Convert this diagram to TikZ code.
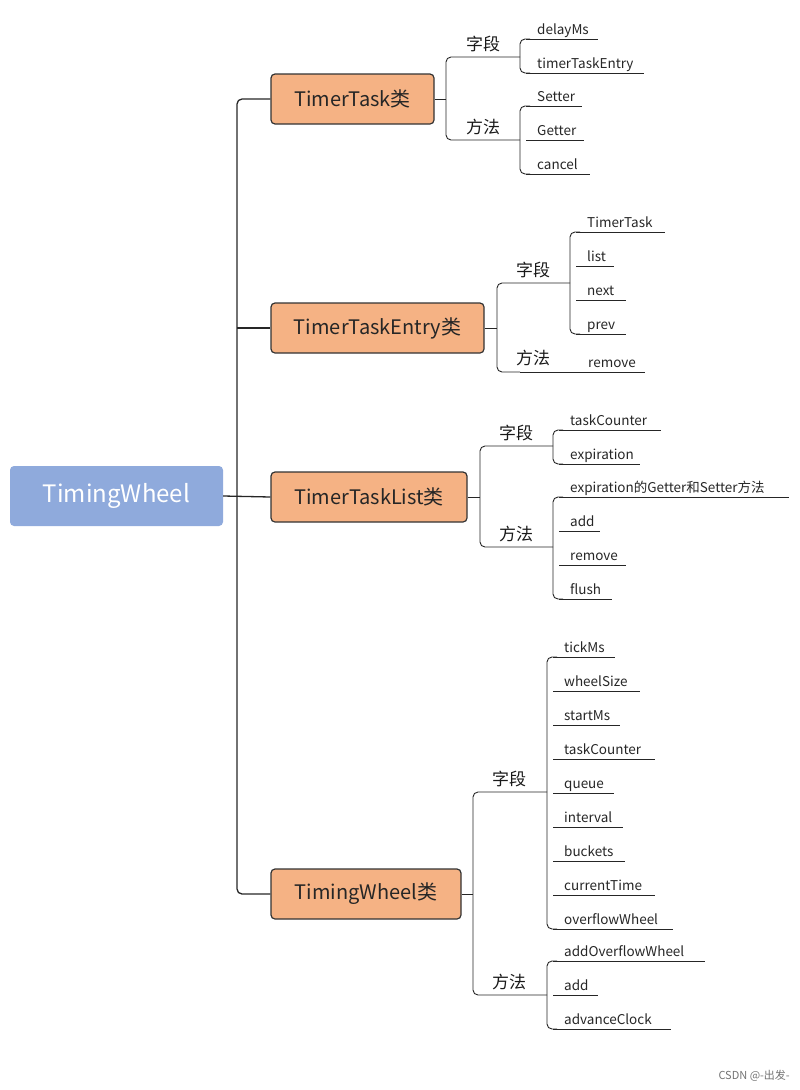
\documentclass[tikz,border=0pt]{standalone}
\usepackage{fontspec}
\setmainfont{Noto Sans CJK SC}
\begin{document}
\begin{tikzpicture}[x=1pt,y=-1pt,
  ln/.style={line width=0.9pt,draw=black!85},
  leaf/.style={anchor=base west,inner sep=0pt,font=\fontsize{13.5}{15}\selectfont,text=black!85},
  cat/.style={anchor=base,inner sep=0pt,font=\fontsize{17}{19}\selectfont,text=black!90},
  cls/.style={draw=black!80,line width=1.2pt,fill=orange!45!red!8!white,fill={rgb,255:red,245;green,178;blue,132},rounded corners=4pt,minimum height=50pt,inner sep=0pt,font=\fontsize{20}{22}\selectfont,text=black!85},
  rc/.style={ln,rounded corners=5pt}]
\useasboundingbox (0,0) rectangle (800,1090);
\newcommand\leafs[2]{%
  \foreach \uy/\ex/\tx in {#2}{%
    \node[leaf] (L-#1-\uy) at (#1+17,\uy-5) {\tx};
    \draw[ln] (#1+6,\uy) -- (\ex,\uy);
  }}
% root
\node[fill={rgb,255:red,143;green,170;blue,220},rounded corners=4pt,minimum width=213pt,minimum height=60pt,text=white,font=\fontsize{24}{26}\selectfont] (root) at (116.5,496) {TimingWheel};
\node[cls,minimum width=163pt] (c1) at (352.5,99) {TimerTask类};
\node[cls,minimum width=213pt] (c2) at (377.5,328) {TimerTaskEntry类};
\node[cls,minimum width=196pt] (c3) at (369,497) {TimerTaskList类};
\node[cls,minimum width=190pt] (c4) at (366,894) {TimingWheel类};
\coordinate (t) at (237,496);
\draw[ln,line width=1.3pt] (root.east) -- (c3.west);
\draw[rc,line width=1.3pt] (c1.west) -- (237,99) -- (237,894) -- (c4.west);
\draw[ln,line width=1.3pt] (237,328) -- (c2.west);
% class 1
\draw[ln] (c1.east) -- (446,99);
\draw[rc] (520,57) -- (446,57) -- (446,140) -- (520,140);
\node[cat] (k1) at (483,50) {字段};
\node[cat] (m1) at (483,133) {方法};
\draw[rc] (530,39) -- (520,39) -- (520,73) -- (530,73);
\draw[rc] (530,106) -- (520,106) -- (520,174) -- (530,174);
\leafs{520}{39/598/delayMs,73/644/timerTaskEntry,106/582/Setter,140/584/Getter,174/590/cancel}
% class 2
\draw[ln] (c2.east) -- (497,328);
\draw[rc] (570,283) -- (497,283) -- (497,372) -- (520,372);
\node[cat] (k2) at (533,276) {字段};
\node[cat] (m2) at (533,364) {方法};
\draw[rc] (580,232) -- (570,232) -- (570,334) -- (580,334);
\leafs{570}{232/665/TimerTask,266/614/list,300/626/next,334/626/prev}
\node[leaf] (L-r2) at (588,367) {remove};
\draw[ln] (520,372) -- (645,372);
% class 3
\draw[ln] (c3.east) -- (480,497);
\draw[rc] (553,446) -- (480,446) -- (480,547) -- (553,547);
\node[cat] (k3) at (516,439) {字段};
\node[cat] (m3) at (516,540) {方法};
\draw[rc] (563,430) -- (553,430) -- (553,464) -- (563,464);
\draw[rc] (563,497) -- (553,497) -- (553,599) -- (563,599);
\leafs{553}{430/661/taskCounter,464/640/expiration,497/789/expiration的Getter和Setter方法,531/600/add,565/626/remove,599/612/flush}
% class 4
\draw[ln] (c4.east) -- (473,894);
\draw[rc] (547,792) -- (473,792) -- (473,995) -- (547,995);
\node[cat] (k4) at (509,785) {字段};
\node[cat] (m4) at (509,988) {方法};
\draw[rc] (557,657) -- (547,657) -- (547,929) -- (557,929);
\draw[rc] (557,961) -- (547,961) -- (547,1029) -- (557,1029);
\leafs{547}{657/615/tickMs,691/640/wheelSize,725/620/startMs,759/655/taskCounter,793/614/queue,827/623/interval,861/625/buckets,895/655/currentTime,929/673/overflowWheel,961/705/addOverflowWheel,995/598/add,1029/671/advanceClock}
\node[anchor=base east,inner sep=0pt,font=\fontsize{11}{12}\selectfont,text=black!55] (wm) at (790,1079) {CSDN @-出发-};
\end{tikzpicture}
\end{document}
